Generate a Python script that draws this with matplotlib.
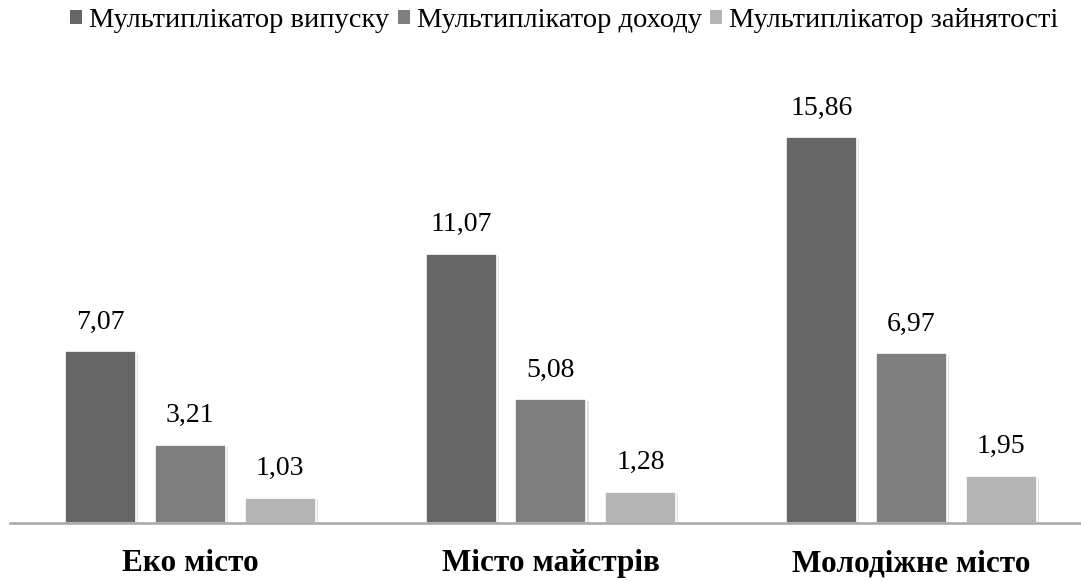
import matplotlib.pyplot as plt
import matplotlib.patheffects as pe
import numpy as np

plt.rcParams['font.family'] = ['Liberation Serif', 'DejaVu Serif']

categories = ['Еко місто', 'Місто майстрів', 'Молодіжне місто']
series_names = ['Мультиплікатор випуску', 'Мультиплікатор доходу', 'Мультиплікатор зайнятості']
output_mult = [7.07, 11.07, 15.86]
income_mult = [3.21, 5.08, 6.97]
employ_mult = [1.03, 1.28, 1.95]
colors = ['#666666', '#7f7f7f', '#b4b4b4']

fig = plt.figure(figsize=(10.81, 5.81), dpi=100)
ax = fig.add_axes([10 / 1081, 58 / 581, 1071 / 1081, 438 / 581])

x = np.arange(len(categories))
step = 0.249
width = 0.197
shadow = [pe.SimplePatchShadow(offset=(1.5, -1.5), shadow_rgbFace='#000000', alpha=0.12), pe.Normal()]

for i, (vals, name) in enumerate(zip([output_mult, income_mult, employ_mult], series_names)):
    pos = x + (i - 1) * step
    bars = ax.bar(pos, vals, width, color=colors[i], edgecolor='white', linewidth=1.2,
                  label=name, path_effects=shadow)
    for b, v in zip(bars, vals):
        ax.text(b.get_x() + b.get_width() / 2, v + 0.68, f'{v:.2f}'.replace('.', ','),
                ha='center', va='bottom', fontsize=20)

ax.set_xlim(-0.50, 2.47)
ax.set_ylim(0, 18)
ax.set_yticks([])
ax.set_xticks(x)
ax.set_xticklabels(categories, fontsize=22.5, fontweight='bold')
ax.tick_params(axis='x', length=0, pad=19)
for s in ['top', 'right', 'left']:
    ax.spines[s].set_visible(False)
ax.spines['bottom'].set_color('#a6a6a6')
ax.spines['bottom'].set_linewidth(1.8)

leg = fig.legend(loc='upper center', bbox_to_anchor=(0.522, 1.03), ncol=3, frameon=False,
                 fontsize=20.5, handlelength=0.42, handleheight=0.42, handletextpad=0.25,
                 columnspacing=0.3)
for h in leg.legend_handles:
    h.set_path_effects([])
    h.set_linewidth(0)

fig.savefig('out.png', dpi=100)
